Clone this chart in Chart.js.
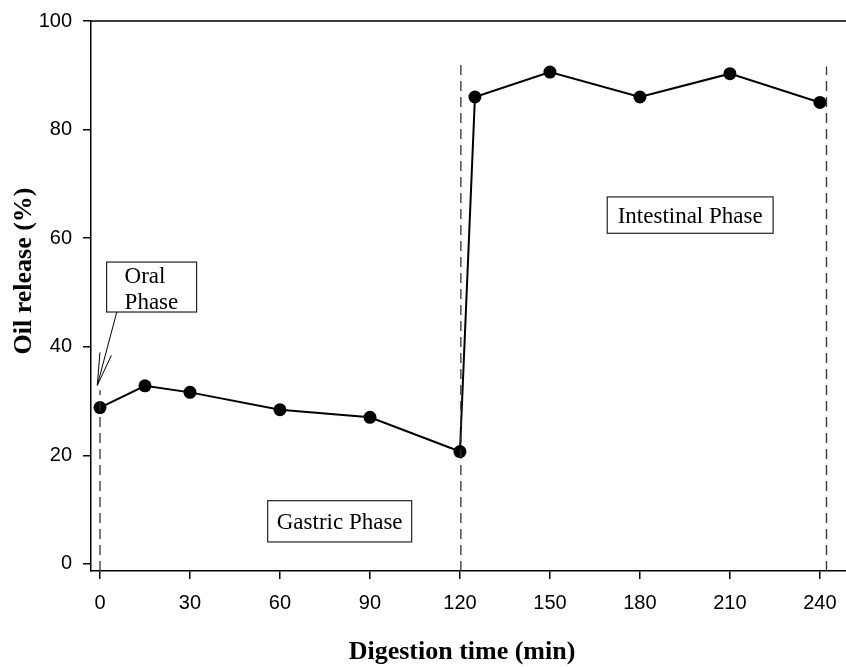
<!DOCTYPE html>
<html>
<head>
<meta charset="utf-8">
<title>Oil release during digestion</title>
<script src="https://cdn.jsdelivr.net/npm/chart.js@4.4.1/dist/chart.umd.min.js"></script>
<style>
  html, body { margin: 0; padding: 0; background: #fff; }
  #chart { display: block; }
</style>
</head>
<body>
<canvas id="chart" width="846" height="667"></canvas>
<script>
// ========== Data ==========
const times = [0, 15, 30, 60, 90, 120, 125, 150, 180, 210, 240];
const oilRelease = [28.8, 32.8, 31.6, 28.4, 27.0, 20.7, 86.0, 90.6, 86.0, 90.3, 85.0];

const xTicks = [0, 30, 60, 90, 120, 150, 180, 210, 240];
const yTicks = [0, 20, 40, 60, 80, 100];

// phase boundaries (x position, top of the dashed line)
const phaseX = [0, 120.3, 242.2];
const phaseTop = [32, 92.5, 91.6];

// phase label boxes, in axis units
const phaseLabels = [['Oral', 'Phase'], ['Gastric Phase'], ['Intestinal Phase']];
const boxLeft = [2.2, 55.9, 169.1];
const boxRight = [32.2, 103.9, 224.4];
const boxTop = [55.6, 11.65, 67.6];
const boxBottom = [46.4, 4.05, 60.9];

// arrow from the oral box down to the start of digestion
const arrowTail = { x: 5.6, y: 46.4 };
const arrowTip = { x: -0.9, y: 32.9 };

const X_MIN = -3, X_MAX = 248.7;
const Y_MIN = -1.3, Y_MAX = 100;

const serif = '"Liberation Serif", "Times New Roman", serif';
const sans = '"Liberation Sans", Arial, sans-serif';

// ========== Datasets ==========
const phaseDatasets = phaseX.map((x, i) => ({
  data: [{ x: x, y: Y_MIN }, { x: x, y: phaseTop[i] }],
  borderColor: '#333',
  borderWidth: 1.3,
  borderDash: [10, 6],
  pointRadius: 0,
  fill: false
}));

const releaseDataset = {
  data: times.map((t, i) => ({ x: t, y: oilRelease[i] })),
  borderColor: '#000',
  backgroundColor: '#000',
  borderWidth: 2,
  pointRadius: 6.5,
  pointBackgroundColor: '#000',
  pointBorderColor: '#000',
  pointBorderWidth: 0,
  tension: 0,
  fill: false
};

// ========== Annotation plugin ==========
const annotations = {
  id: 'annotations',
  afterDraw(chart) {
    const ctx = chart.ctx;
    const xs = chart.scales.x, ys = chart.scales.y;
    const area = chart.chartArea;
    ctx.save();

    // top frame line
    ctx.strokeStyle = '#000';
    ctx.lineWidth = 1.5;
    ctx.beginPath();
    ctx.moveTo(area.left, area.top);
    ctx.lineTo(area.right, area.top);
    ctx.stroke();

    // label boxes
    ctx.font = '23px ' + serif;
    ctx.fillStyle = '#000';
    ctx.textBaseline = 'alphabetic';
    phaseLabels.forEach((lines, i) => {
      const l = xs.getPixelForValue(boxLeft[i]);
      const r = xs.getPixelForValue(boxRight[i]);
      const t = ys.getPixelForValue(boxTop[i]);
      const b = ys.getPixelForValue(boxBottom[i]);
      ctx.fillStyle = '#fff';
      ctx.fillRect(l, t, r - l, b - t);
      ctx.strokeStyle = '#222';
      ctx.lineWidth = 1.2;
      ctx.strokeRect(l, t, r - l, b - t);
      ctx.fillStyle = '#000';
      if (lines.length === 2) {
        ctx.fillText(lines[0], l + 18, t + 21);
        ctx.fillText(lines[1], l + 18, t + 47);
      } else {
        const w = ctx.measureText(lines[0]).width;
        ctx.fillText(lines[0], (l + r) / 2 - w / 2, (t + b) / 2 + 8);
      }
    });

    // arrow
    const x0 = xs.getPixelForValue(arrowTail.x), y0 = ys.getPixelForValue(arrowTail.y);
    const x1 = xs.getPixelForValue(arrowTip.x), y1 = ys.getPixelForValue(arrowTip.y);
    const ang = Math.atan2(y0 - y1, x0 - x1);
    const headLen = 33, spread = 0.18;
    ctx.strokeStyle = '#000';
    ctx.lineWidth = 1;
    ctx.beginPath();
    ctx.moveTo(x0, y0);
    ctx.lineTo(x1, y1);
    ctx.moveTo(x1 + headLen * Math.cos(ang - spread), y1 + headLen * Math.sin(ang - spread));
    ctx.lineTo(x1, y1);
    ctx.lineTo(x1 + headLen * Math.cos(ang + spread), y1 + headLen * Math.sin(ang + spread));
    ctx.stroke();

    // axis titles
    ctx.font = 'bold 26px ' + serif;
    ctx.textAlign = 'center';
    ctx.textBaseline = 'middle';
    ctx.fillText('Digestion time (min)', 462, 652);
    ctx.translate(24, 271);
    ctx.rotate(-Math.PI / 2);
    ctx.fillText('Oil release (%)', 0, 0);
    ctx.restore();
  }
};

// ========== Chart ==========
new Chart(document.getElementById('chart').getContext('2d'), {
  type: 'line',
  data: { datasets: [...phaseDatasets, releaseDataset] },
  options: {
    responsive: false,
    devicePixelRatio: 1,
    animation: false,
    layout: { autoPadding: false, padding: { top: 21, right: 0, bottom: 0, left: 0 } },
    plugins: {
      legend: { display: false },
      tooltip: { enabled: false }
    },
    scales: {
      x: {
        type: 'linear',
        min: X_MIN,
        max: X_MAX,
        afterBuildTicks: (scale) => { scale.ticks = xTicks.map(v => ({ value: v })); },
        afterFit: (scale) => {
          scale.height = 96;
          scale.paddingLeft = 0;
          scale.paddingRight = 0;
        },
        border: { display: true, color: '#000', width: 1.5 },
        grid: { drawOnChartArea: false, drawTicks: true, tickLength: 8, color: '#000', lineWidth: 1.5 },
        ticks: { color: '#000', font: { family: sans, size: 20 }, padding: 12, maxRotation: 0 }
      },
      y: {
        type: 'linear',
        min: Y_MIN,
        max: Y_MAX,
        afterBuildTicks: (scale) => { scale.ticks = yTicks.map(v => ({ value: v })); },
        afterFit: (scale) => {
          scale.width = 91;
          scale.paddingTop = 0;
          scale.paddingBottom = 0;
        },
        border: { display: true, color: '#000', width: 1.5 },
        grid: { drawOnChartArea: false, drawTicks: true, tickLength: 8, color: '#000', lineWidth: 1.5 },
        ticks: { color: '#000', font: { family: sans, size: 20 }, padding: 11 }
      }
    }
  },
  plugins: [annotations]
});
</script>
</body>
</html>
